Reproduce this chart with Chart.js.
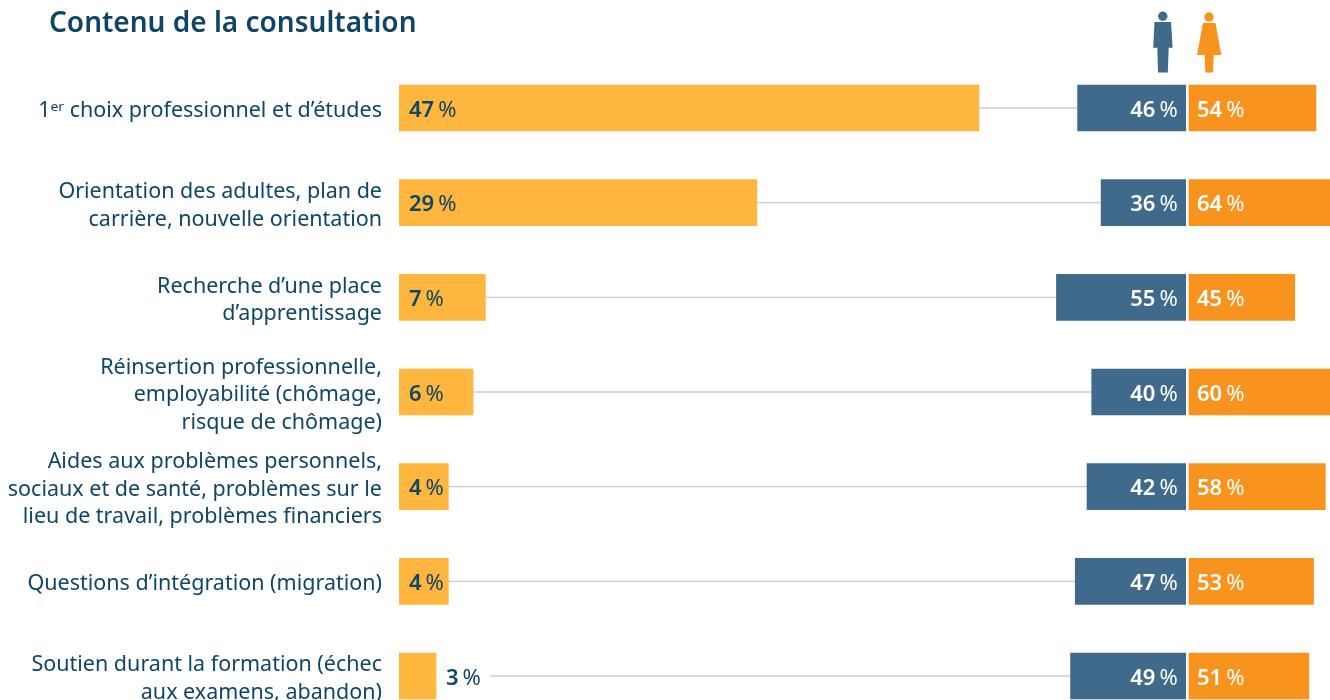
<!DOCTYPE html>
<html lang="fr">
<head>
<meta charset="utf-8">
<style>html,body{margin:0;padding:0;background:#fff;overflow:hidden}#w{width:1330px;height:700px}</style>
<script src="https://cdn.jsdelivr.net/npm/chart.js@4"></script>
</head>
<body>
<div id="w"><canvas id="c" width="1330" height="700"></canvas></div>
<script>
const categories = [
  ["1ᵉʳ choix professionnel et d’études"],
  ["Orientation des adultes, plan de", "carrière, nouvelle orientation"],
  ["Recherche d’une place", "d’apprentissage"],
  ["Réinsertion professionnelle,", "employabilité (chômage,", "risque de chômage)"],
  ["Aides aux problèmes personnels,", "sociaux et de santé, problèmes sur le", "lieu de travail, problèmes financiers"],
  ["Questions d’intégration (migration)"],
  ["Soutien durant la formation (échec", "aux examens, abandon)"]
];
const titleText = "Contenu de la consultation";
const shareValues = [47, 29, 7, 6, 4, 4, 3];
const menValues = [46, 36, 55, 40, 42, 47, 49];
const womenValues = [54, 64, 45, 60, 58, 53, 51];
const indexes = categories.map((_, i) => i);

const INK = "#0f4565", YELLOW = "#ffb63e", BLUE = "#3f6a8b", ORANGE = "#f8931e", RULE = "#c8ccd6";
const FAMILY = "'Noto Sans', sans-serif";

function pct(ctx, value, x, y, color, align) {
  ctx.save();
  ctx.fillStyle = color;
  ctx.textBaseline = "middle";
  ctx.textAlign = "left";
  const num = String(value);
  ctx.font = "600 22px " + FAMILY;
  const a = ctx.measureText(num).width;
  ctx.font = "400 22px " + FAMILY;
  const b = ctx.measureText("%").width;
  const gap = 4;
  const start = align === "right" ? x - a - gap - b : x;
  ctx.font = "600 22px " + FAMILY;
  ctx.fillText(num, start, y);
  ctx.font = "400 22px " + FAMILY;
  ctx.fillText("%", start + a + gap, y);
  ctx.restore();
}

const marks = {
  id: "marks",
  afterLayout(chart) {
    chart.titleBlock.left = 49;
    const s = chart.scales.y;
    const compute = s._computeLabelItems.bind(s);
    s._computeLabelItems = area => compute(area).map(item => ({ ...item, textOffset: item.textOffset + 3 }));
    s._labelItems = null;
  },
  beforeDatasetsDraw(chart) {
    const { ctx, scales } = chart;
    ctx.save();
    ctx.strokeStyle = RULE;
    ctx.lineWidth = 1.3;
    indexes.forEach(i => {
      const y = scales.y.getPixelForValue(i);
      let from = scales.xY.getPixelForValue(shareValues[i]);
      if (shareValues[i] < 4) from += 54;
      const to = scales.xM.getPixelForValue(menValues[i]);
      ctx.beginPath();
      ctx.moveTo(from, y);
      ctx.lineTo(to, y);
      ctx.stroke();
    });
    ctx.restore();
  },
  afterDatasetsDraw(chart) {
    const { ctx, scales } = chart;
    indexes.forEach(i => {
      const y = scales.y.getPixelForValue(i) + 2.5;
      const yellowEnd = scales.xY.getPixelForValue(shareValues[i]);
      const x = shareValues[i] < 4 ? yellowEnd + 10 : scales.xY.getPixelForValue(0) + 10;
      pct(ctx, shareValues[i], x, y, INK, "left");
      pct(ctx, menValues[i], scales.xM.getPixelForValue(0) - 8, y, "#fff", "right");
      pct(ctx, womenValues[i], scales.xF.getPixelForValue(0) + 8, y, "#fff", "left");
    });
    // pictograms above the two gender columns
    ctx.save();
    const poly = (pts) => { ctx.beginPath(); pts.forEach((p, k) => k ? ctx.lineTo(p[0], p[1]) : ctx.moveTo(p[0], p[1])); ctx.closePath(); ctx.fill(); };
    ctx.fillStyle = BLUE;
    ctx.beginPath(); ctx.arc(1162.8, 16.2, 4.7, 0, Math.PI * 2); ctx.fill();
    poly([[1154.5, 22], [1171, 22], [1172.6, 47.7], [1168.7, 47.7], [1167.8, 72.5], [1158, 72.5], [1157.3, 47.7], [1153.2, 47.7]]);
    ctx.fillStyle = ORANGE;
    ctx.beginPath(); ctx.arc(1209, 17, 4.7, 0, Math.PI * 2); ctx.fill();
    poly([[1203, 23], [1215.5, 23], [1221.3, 55], [1213.7, 55], [1213, 72.5], [1205.3, 72.5], [1204.7, 55], [1197, 55]]);
    ctx.restore();
  }
};

const toPoints = arr => arr.map((v, i) => ({ x: v, y: i }));

new Chart(document.getElementById("c"), {
  type: "bar",
  data: {
    datasets: [
      { label: "Part", data: toPoints(shareValues), xAxisID: "xY", backgroundColor: YELLOW },
      { label: "Hommes", data: toPoints(menValues), xAxisID: "xM", backgroundColor: BLUE },
      { label: "Femmes", data: toPoints(womenValues), xAxisID: "xF", backgroundColor: ORANGE }
    ]
  },
  plugins: [marks],
  options: {
    indexAxis: "y",
    responsive: false,
    animation: false,
    grouped: false,
    barThickness: 46,
    borderSkipped: false,
    layout: { padding: 0, autoPadding: false },
    plugins: {
      legend: { display: false },
      tooltip: { enabled: false },
      title: {
        display: true,
        text: titleText,
        align: "start",
        color: INK,
        font: { family: FAMILY, size: 28, weight: "600", lineHeight: 1.2 },
        padding: { top: 7, bottom: 20.4 }
      }
    },
    scales: {
      y: {
        type: "linear",
        offset: false,
        reverse: true,
        min: -0.4965,
        max: 6.2533,
        afterFit(s) { s.width = 399; s.paddingTop = 0; s.paddingBottom = 0; },
        afterBuildTicks(s) { s.ticks = indexes.map(v => ({ value: v })); },
        grid: { display: false, drawTicks: false },
        border: { display: false },
        ticks: {
          autoSkip: false,
          padding: 17,
          color: INK,
          font: { family: FAMILY, size: 21.5, lineHeight: 1.279 },
          callback: v => categories[v]
        }
      },
      xY: { type: "linear", axis: "x", display: false, min: 0, max: 75.45 },
      xM: { type: "linear", axis: "x", display: false, reverse: true, min: -61.4, max: 334.77 },
      xF: { type: "linear", axis: "x", display: false, min: -336.17, max: 60 }
    }
  }
});
</script>
</body>
</html>
